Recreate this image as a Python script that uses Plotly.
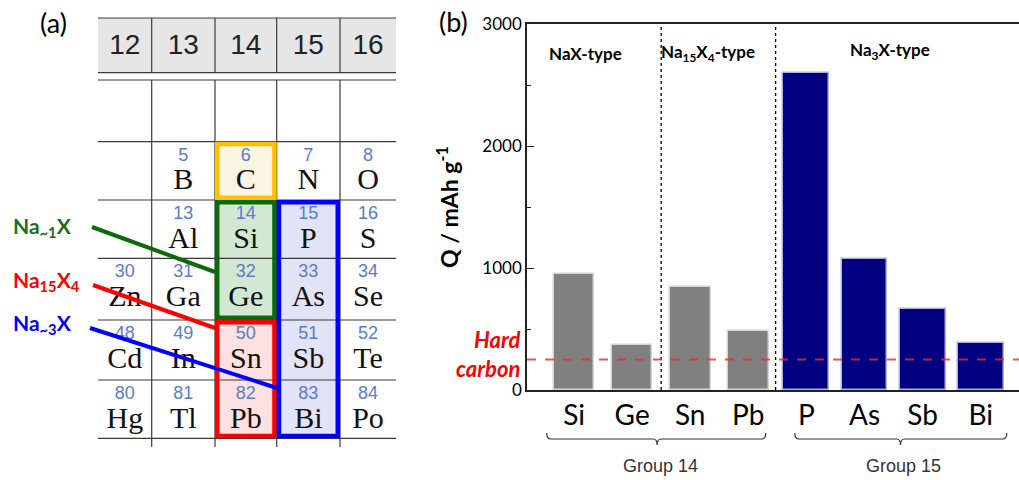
import plotly.graph_objects as go

W, H = 1019, 480

# ---------------- chart (b) data ----------------
elements = ["Si", "Ge", "Sn", "Pb", "P", "As", "Sb", "Bi"]
capacity = [954, 369, 847, 485, 2596, 1073, 660, 385]   # mAh/g
groups = ["Group 14", "Group 14", "Group 14", "Group 14",
          "Group 15", "Group 15", "Group 15", "Group 15"]
hard_carbon = 250
y_ticks = [0, 1000, 2000, 3000]

# ---------------- periodic table (a) data ----------------
pt_groups = ["12", "13", "14", "15", "16"]
pt_rows = [
    [None, None, None, None, None],
    [None, (5, "B"), (6, "C"), (7, "N"), (8, "O")],
    [None, (13, "Al"), (14, "Si"), (15, "P"), (16, "S")],
    [(30, "Zn"), (31, "Ga"), (32, "Ge"), (33, "As"), (34, "Se")],
    [(48, "Cd"), (49, "In"), (50, "Sn"), (51, "Sb"), (52, "Te")],
    [(80, "Hg"), (81, "Tl"), (82, "Pb"), (83, "Bi"), (84, "Po")],
]

fig = go.Figure()

# ================= bar chart =================
x_idx = list(range(len(elements)))
is15 = [g == "Group 15" for g in groups]
fig.add_trace(go.Bar(
    x=x_idx, y=capacity,
    width=[0.79 if b else 0.70 for b in is15],
    marker=dict(color=["#000080" if b else "#808080" for b in is15],
                line=dict(color=["#aeb0dc" if b else "#d4d4d4" for b in is15], width=1.5)),
    xaxis="x", yaxis="y", showlegend=False, hoverinfo="skip"))

CHART_FONT = "Lato"

# ================= periodic table via overlay axes (1 unit = 1 px) =================
col_edges = [98, 151.7, 215, 276.7, 340, 396]
row_edges = [80, 141.7, 200, 258.3, 320, 380, 438.3]
head_top, head_bot = 18, 72.7
shapes = []

def rect(x0, y0, x1, y1, fill=None, line=None, lw=0, layer="below"):
    d = dict(type="rect", xref="x2", yref="y2", x0=x0, y0=y0, x1=x1, y1=y1,
             layer=layer, line=dict(width=lw, color=line or "rgba(0,0,0,0)"))
    d["fillcolor"] = fill or "rgba(0,0,0,0)"
    shapes.append(d)

def seg(x0, y0, x1, y1, color="#3a3a3a", w=1.2, layer="below"):
    shapes.append(dict(type="line", xref="x2", yref="y2", x0=x0, y0=y0, x1=x1, y1=y1,
                       layer=layer, line=dict(color=color, width=w)))

# header background
rect(col_edges[0], head_top, col_edges[-1], head_bot, fill="#e6e6e6")
# cell fills
rect(col_edges[2], row_edges[1], col_edges[3], row_edges[2], fill="#fdf5e4")
rect(col_edges[2], row_edges[2], col_edges[3], row_edges[4], fill="#d3e8d2")
rect(col_edges[2], row_edges[4], col_edges[3], row_edges[6], fill="#fbe1e1")
rect(col_edges[3], row_edges[2], col_edges[4], row_edges[6], fill="#e3e3f7")
# grid lines
for yv in [head_top, head_bot, row_edges[0]] + row_edges[1:]:
    seg(col_edges[0], yv, col_edges[-1], yv)
for xv in col_edges[1:-1]:
    seg(xv, head_top, xv, head_bot)
    seg(xv, row_edges[0], xv, 447)

# coloured boxes
def box(c0, c1, r0, r1, color, lw=4.5):
    i = lw / 2
    rect(col_edges[c0] + i, row_edges[r0] + i, col_edges[c1] - i, row_edges[r1] - i,
         line=color, lw=lw, layer="above")
box(2, 3, 1, 2, "#ffc000")
box(2, 3, 2, 4, "#0b6b0b")
box(2, 3, 4, 6, "#ff0000")
box(3, 4, 2, 6, "#0000ff")

# connector lines
seg(92, 227, 215, 272, color="#0b6b0b", w=4, layer="above")
seg(93, 285, 215, 328, color="#ff0000", w=4, layer="above")
seg(90, 328, 277, 388, color="#0000ff", w=4, layer="above")

# element text as text traces on overlay axes
num_x, num_y, num_t, sym_x, sym_y, sym_t = [], [], [], [], [], []
for r, row in enumerate(pt_rows):
    top = row_edges[r]
    for c, cell in enumerate(row):
        if cell is None:
            continue
        cx = (col_edges[c] + col_edges[c + 1]) / 2
        num_x.append(cx); num_y.append(top + 14.5); num_t.append(str(cell[0]))
        sym_x.append(cx); sym_y.append(top + 40); sym_t.append(cell[1])
fig.add_trace(go.Scatter(x=num_x, y=num_y, text=num_t, mode="text", xaxis="x2", yaxis="y2",
                         textfont=dict(family="Liberation Sans", size=18, color="#5a7ccc"),
                         showlegend=False, hoverinfo="skip"))
fig.add_trace(go.Scatter(x=sym_x, y=sym_y, text=sym_t, mode="text", xaxis="x2", yaxis="y2",
                         textfont=dict(family="Liberation Serif", size=30, color="#111111"),
                         showlegend=False, hoverinfo="skip"))
hx = [(col_edges[i] + col_edges[i + 1]) / 2 for i in range(len(pt_groups))]
fig.add_trace(go.Scatter(x=hx, y=[46.5] * len(hx), text=pt_groups, mode="text", xaxis="x2", yaxis="y2",
                         textfont=dict(family="Liberation Sans", size=28, color="#222222"),
                         showlegend=False, hoverinfo="skip"))

annotations = []
def ann2(x, y, text, size, color="black", family=CHART_FONT, xanchor="center", **kw):
    annotations.append(dict(xref="x2", yref="y2", x=x, y=y, text=text, showarrow=False,
                            xanchor=xanchor, yanchor="middle",
                            font=dict(family=family, size=size, color=color), **kw))

ann2(53, 22, "(a)", 27)
ann2(11, 227, "<b>Na<sub>~1</sub>X</b>", 21, color="#1b6e1b", xanchor="left")
ann2(11, 281, "<b>Na<sub>15</sub>X<sub>4</sub></b>", 21, color="#ff0000", xanchor="left")
ann2(11, 324, "<b>Na<sub>~3</sub>X</b>", 21, color="#0000ff", xanchor="left")

# ================= bar chart decorations =================
def pyp(p):
    return 1 - p / H

def ann(**k):
    k.setdefault("xanchor", "center")
    k.setdefault("yanchor", "middle")
    annotations.append(dict(showarrow=False, **k))

ann(xref="paper", yref="paper", x=453 / W, y=pyp(22), text="(b)",
    font=dict(family=CHART_FONT, size=27, color="black"))
ann(xref="paper", yref="paper", x=447 / W, y=pyp(207), text="<b>Q / mAh g<sup>-1</sup></b>",
    textangle=-90, font=dict(family=CHART_FONT, size=23, color="black"))
ann(xref="paper", yref="paper", x=522 / W, y=pyp(354), xanchor="right",
    text="<b><i>Hard<br>carbon</i></b>", align="right",
    font=dict(family=CHART_FONT, size=22, color="#ff0000"))
ann(xref="x", yref="y", x=0.19, y=2760, text="<b>NaX-type</b>",
    font=dict(family=CHART_FONT, size=17, color="black"))
ann(xref="x", yref="y", x=2.3, y=2760, text="<b>Na<sub>15</sub>X<sub>4</sub>-type</b>",
    font=dict(family=CHART_FONT, size=17, color="black"))
ann(xref="x", yref="y", x=5.44, y=2780, text="<b>Na<sub>3</sub>X-type</b>",
    font=dict(family=CHART_FONT, size=17, color="black"))

# group brackets + labels
spans = {"Group 14": (-0.47, 3.3, 1.43), "Group 15": (3.8, 7.45, 5.62)}
ya, yb, yc = pyp(433), pyp(439), pyp(445)
for g, (x0, x1, xm) in spans.items():
    e = 0.07
    path = (f"M {x0},{ya} Q {x0},{yb} {x0+e},{yb} L {xm-e},{yb} Q {xm},{yb} {xm},{yc} "
            f"Q {xm},{yb} {xm+e},{yb} L {x1-e},{yb} Q {x1},{yb} {x1},{ya}")
    shapes.append(dict(type="path", xref="x", yref="paper", path=path,
                       line=dict(color="#333333", width=1.2)))
    ann(xref="x", yref="paper", x=xm + 0.05, y=pyp(466), text=g,
        font=dict(family="Liberation Sans", size=18, color="#333333"))

# dotted separators
for xv in [1.5, 3.47]:
    shapes.append(dict(type="line", xref="x", yref="y", x0=xv, x1=xv, y0=0, y1=3000,
                       line=dict(color="black", width=1.3, dash="dot")))
# hard carbon line
shapes.append(dict(type="line", xref="x domain", yref="y", x0=0, x1=1, y0=hard_carbon, y1=hard_carbon,
                   line=dict(color="rgba(240,40,40,0.8)", width=1.8, dash="dash")))

fig.update_layout(
    width=W, height=H, margin=dict(l=0, r=0, t=0, b=0, pad=0, autoexpand=False),
    paper_bgcolor="white", plot_bgcolor="rgba(0,0,0,0)",
    shapes=shapes, annotations=annotations, bargap=0,
    xaxis=dict(domain=[527 / W, 1], range=[-0.81, 7.66], tickvals=x_idx, ticktext=elements,
               tickfont=dict(family=CHART_FONT, size=28, color="black"), automargin=False,
               showline=True, linecolor="#222222", linewidth=1.6, mirror=True,
               ticks="", showgrid=False, zeroline=False, fixedrange=True),
    yaxis=dict(domain=[pyp(390), pyp(24)], range=[0, 3000], tickvals=y_ticks, automargin=False,
               tickfont=dict(family=CHART_FONT, size=17, color="black"),
               showline=True, linecolor="#222222", linewidth=1.6,
               ticks="inside", ticklen=7, tickwidth=1.3, tickcolor="#222222",
               minor=dict(ticks="inside", dtick=500, ticklen=4, tickwidth=1.2, tickcolor="#222222"),
               showgrid=False, zeroline=False),
    xaxis2=dict(domain=[0, 400 / W], range=[0, 400], visible=False, anchor="y2",
                fixedrange=True, automargin=False),
    yaxis2=dict(domain=[0, 1], range=[H, 0], visible=False, anchor="x2",
                fixedrange=True, automargin=False),
)

fig.write_html("out.html")
